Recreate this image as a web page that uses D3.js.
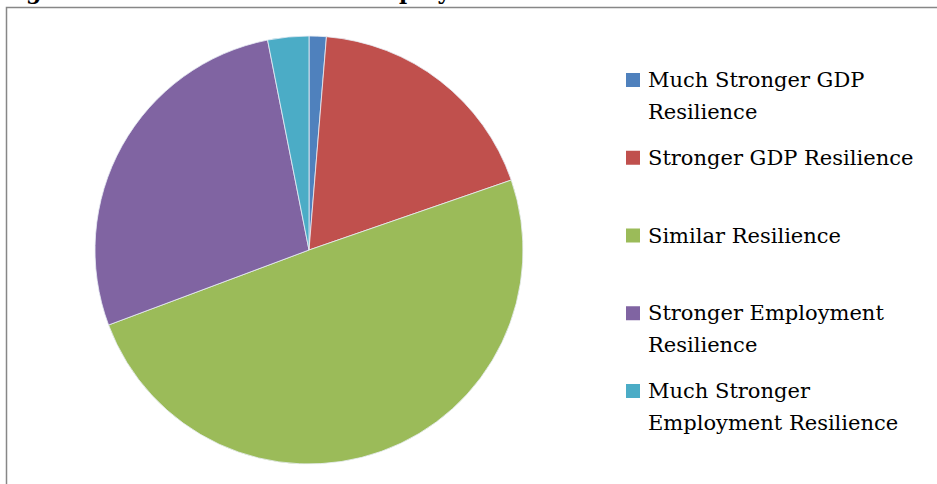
<!DOCTYPE html>
<html>
<head>
<meta charset="utf-8">
<script src="https://cdn.jsdelivr.net/npm/d3@7"></script>
<style>
  body { margin: 0; background: #fff; }
  svg { display: block; }
</style>
</head>
<body>
<div id="chart"></div>
<script>
// Pie chart of resilience categories, legend on the right
const categories = [
  'Much Stronger GDP Resilience',
  'Stronger GDP Resilience',
  'Similar Resilience',
  'Stronger Employment Resilience',
  'Much Stronger Employment Resilience'
]
const legendLines = [
  ['Much Stronger GDP', 'Resilience'],
  ['Stronger GDP Resilience'],
  ['Similar Resilience'],
  ['Stronger Employment', 'Resilience'],
  ['Much Stronger', 'Employment Resilience']
]
const shares = [1.3, 18.4, 49.6, 27.6, 3.1]
const colours = ['#4f81bd', '#c0504d', '#9bbb59', '#8064a2', '#4bacc6']
const title = 'Figure 3: GDP Resilience vs. Employment Resilience'

;(function() {
  const chartWidth = 937
  const chartHeight = 484
  const centre = { x: 309, y: 250 }
  const radius = 214

  const svg = d3.select('#chart')
    .append('svg')
      .attr('width', chartWidth)
      .attr('height', chartHeight)

  // heading sits above the crop, only descenders show
  svg.append('text')
    .attr('x', 2)
    .attr('y', -1)
    .attr('font-family', 'DejaVu Serif')
    .attr('font-weight', 'bold')
    .attr('font-size', 22)
    .attr('fill', '#000')
    .text(title)

  // frame
  svg.append('rect')
    .attr('x', 6.5)
    .attr('y', 7.5)
    .attr('width', chartWidth)
    .attr('height', chartHeight)
    .attr('fill', 'none')
    .attr('stroke', '#878787')
    .attr('stroke-width', 1.5)

  const colour = d3.scaleOrdinal()
    .domain(categories)
    .range(colours)

  const pie = d3.pie()
    .value(d => d.value)
    .sort(null)

  const arc = d3.arc()
    .innerRadius(0)
    .outerRadius(radius)

  const slices = pie(categories.map((c, i) => ({ name: c, value: shares[i] })))

  svg.append('g')
    .attr('transform', `translate(${centre.x}, ${centre.y})`)
    .selectAll('path')
    .data(slices)
    .enter()
    .append('path')
      .attr('d', arc)
      .attr('fill', d => colour(d.data.name))
      .attr('stroke', '#e8eef5')
      .attr('stroke-width', 0.8)

  // legend
  const legend = svg.append('g')
    .attr('transform', 'translate(626, 0)')

  const legendY = d3.scaleLinear()
    .domain([0, categories.length - 1])
    .range([87, 398])

  const item = legend.selectAll('g')
    .data(categories)
    .enter()
    .append('g')
      .attr('transform', (d, i) => `translate(0, ${legendY(i)})`)

  item.append('rect')
    .attr('x', 0)
    .attr('y', -14)
    .attr('width', 14)
    .attr('height', 14)
    .attr('fill', d => colour(d))

  item.append('text')
    .attr('font-family', 'DejaVu Serif')
    .attr('font-size', 21)
    .attr('fill', '#000')
    .selectAll('tspan')
    .data((d, i) => legendLines[i])
    .enter()
    .append('tspan')
      .attr('x', 22)
      .attr('y', (d, j) => j * 32)
      .text(d => d)
})()
</script>
</body>
</html>
